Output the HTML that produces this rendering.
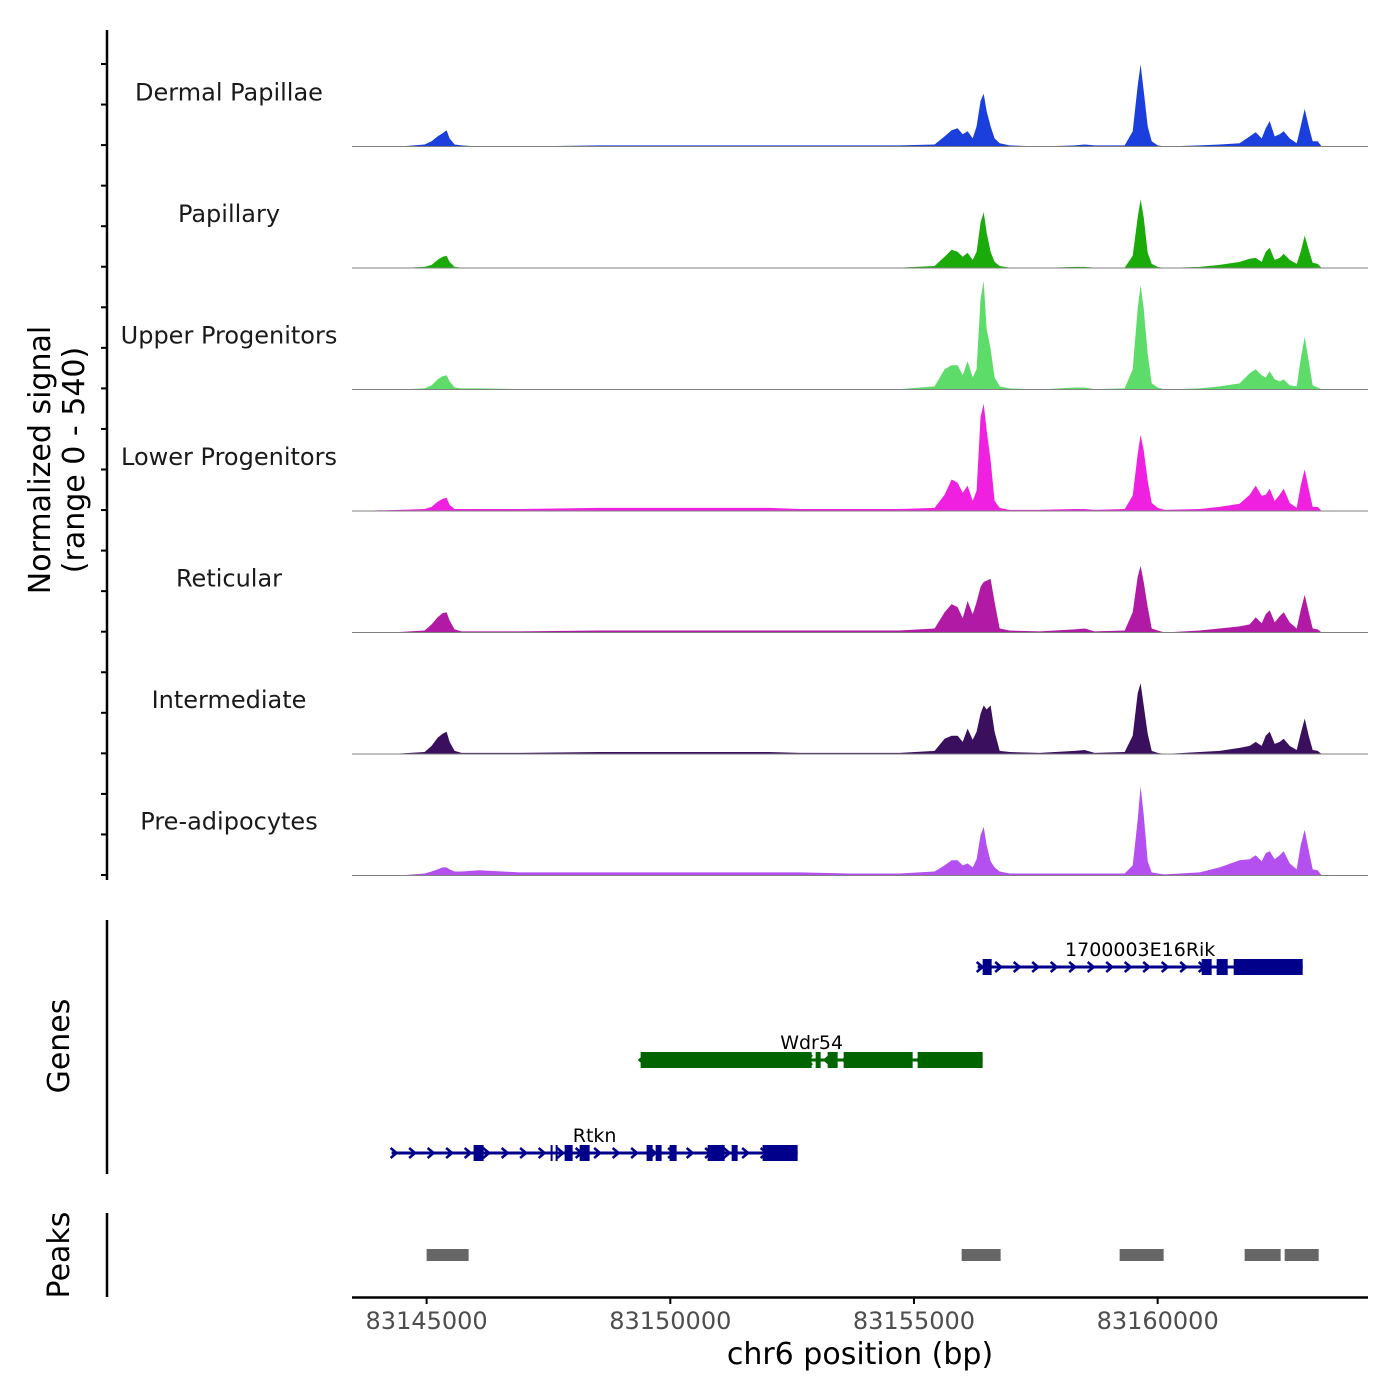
<!DOCTYPE html>
<html><head><meta charset="utf-8">
<style>
html,body{margin:0;padding:0;background:#fff;}
svg{display:block;font-family:"DejaVu Sans","Liberation Sans",sans-serif;}
</style></head>
<body>
<svg id="chart" width="1400" height="1400" viewBox="0 0 1400 1400" xmlns="http://www.w3.org/2000/svg">
<g id="tracks"></g>
<g id="genes"></g>
<g id="peaks"></g>
<g id="axes"></g>
</svg>
<script>
const positions=[83143461,83144446,83144959,83145103,83145226,83145328,83145410,83145472,83145575,83145718,83146088,83146908,83148550,83150602,83152038,83152654,83153680,83154706,83155424,83155629,83155773,83155896,83155999,83156101,83156204,83156286,83156368,83156430,83156491,83156573,83156655,83156758,83156963,83157579,83158297,83158502,83158707,83159323,83159487,83159590,83159651,83159713,83159795,83159877,83160000,83160144,83160862,83161272,83161682,83161888,83162011,83162134,83162216,83162298,83162401,83162504,83162586,83162709,83162852,83162935,83163017,83163099,83163181,83163284,83163366,83164309];
const trackNames=["Dermal Papillae","Papillary","Upper Progenitors","Lower Progenitors","Reticular","Intermediate","Pre-adipocytes"];
const trackColors=["#1a3fdc","#1aab0a","#5ddc6a","#f020e0","#b01aa5","#3a0f5e","#b44ff0"];
const dermal=[0,0,9,23,45,59,72,36,9,5,0,0,5,5,5,5,5,5,9,45,72,81,54,68,36,90,203,234,158,90,36,14,5,0,5,9,5,5,68,270,365,248,90,23,5,0,5,9,14,45,63,36,81,113,45,54,68,36,14,90,167,90,23,23,0,0];
const papillary=[0,0,5,14,36,50,54,27,5,2,0,2,2,2,2,2,2,2,9,50,81,72,50,68,36,72,203,248,158,72,27,9,2,0,5,5,2,2,54,225,306,225,68,18,5,0,5,14,27,41,45,27,72,90,36,45,63,36,18,72,144,81,23,18,0,0];
const upper=[0,0,5,18,45,59,63,36,9,5,5,2,2,2,2,2,2,2,14,90,108,108,63,126,54,90,405,482,270,180,54,14,5,0,9,9,2,5,90,360,464,360,158,27,9,0,5,14,27,72,90,63,54,81,45,36,45,18,14,135,234,126,18,9,0,0];
const lower=[0,5,9,18,41,54,59,27,9,9,9,9,14,14,14,9,9,9,14,72,140,126,81,113,45,90,420,477,360,225,45,14,5,5,9,9,5,9,68,252,338,270,135,36,14,5,9,18,32,72,113,68,72,99,45,72,99,36,14,113,185,99,18,18,0,0];
const reticular=[0,2,9,36,68,86,90,54,14,5,5,5,9,9,9,9,9,9,18,90,126,113,63,140,81,135,203,225,230,239,135,18,9,5,14,18,5,9,90,248,297,225,113,18,9,0,9,18,27,36,68,41,81,99,45,72,90,45,18,99,167,90,18,14,0,0];
const intermediate=[0,2,9,36,72,90,99,54,14,5,5,5,9,9,9,5,5,5,14,68,81,81,54,113,63,99,180,216,198,216,99,14,9,5,14,18,5,9,81,270,315,216,90,14,5,0,9,14,27,36,54,36,81,99,45,54,68,36,18,90,158,81,18,14,0,0];
const preadipo=[0,0,9,18,27,36,36,27,18,18,23,14,14,14,14,14,9,9,18,45,68,68,45,54,36,72,180,216,135,63,36,18,9,9,9,9,9,9,45,248,396,270,63,14,9,5,14,36,68,72,90,63,99,108,72,90,108,54,27,135,203,113,27,23,0,0];
const trackValues=[dermal,papillary,upper,lower,reticular,intermediate,preadipo];
const xTicks=[83145000,83150000,83155000,83160000];
const peakStarts=[83145000,83155978,83159220,83161785,83162606];
const peakEnds=[83145862,83156778,83160123,83162524,83163304];
const geneNames=["1700003E16Rik","Wdr54","Rtkn"];
const geneStarts=[83156307,83149391,83144282];
const geneEnds=[83162976,83156409,83152613];
const geneStrand=[1,-1,1];
const geneColors=["#00008b","#006400","#00008b"];
const geneExons=[
 [[83156409,83156594],[83160903,83161108],[83161211,83161437],[83161560,83162976]],
 [[83149391,83152900],[83152982,83153085],[83153229,83153434],[83153557,83154973],[83155075,83156409]],
 [[83145964,83146170],[83147544,83147585],[83147647,83147688],[83147832,83147996],[83148140,83148345],[83149514,83149638],[83149699,83149822],[83149986,83150130],[83150766,83151115],[83151259,83151382],[83151894,83152613]]
];
const NS="http://www.w3.org/2000/svg";
const X0=352,X1=1368,BP0=83143469,BP1=83164316;
const xs=bp=>X0+(bp-BP0)/(BP1-BP0)*(X1-X0);
const YMAX=540,TH=121.5,TOP=25;
function el(tag,attrs,parent,text){const e=document.createElementNS(NS,tag);for(const k in attrs)e.setAttribute(k,attrs[k]);if(text!==undefined)e.textContent=text;parent.appendChild(e);return e;}
const gT=document.getElementById('tracks');
trackValues.forEach((vals,t)=>{
 const base=TOP+TH*(t+1);
 const ys=v=>base-v/YMAX*TH;
 let d=`M${xs(positions[0])},${base}`;
 vals.forEach((v,i)=>{d+=` L${xs(positions[i]).toFixed(1)},${ys(v).toFixed(1)}`;});
 d+=` L${xs(positions[positions.length-1])},${base} Z`;
 const p=el('path',{d:d,fill:trackColors[t]},gT);
 
 
 const bl=el('line',{x1:X0,x2:X1,y1:base,y2:base,stroke:'#808080','stroke-width':1},gT);
 
 
 const lb=el('text',{x:229,y:base-46,'text-anchor':'middle','font-size':24,fill:'#1a1a1a'},gT,trackNames[t]);
 
 
});
const gA=document.getElementById('axes');
function ax(x1,y1,x2,y2,name,w){const l=el('line',{x1,y1,x2,y2,stroke:'#000','stroke-width':w||2.5},gA);}
ax(107,30,107,880,'signal-y-axis');
for(let i=0;i<=20;i++){const yy=64+i*40.55;ax(101,yy,107,yy,'y-tick',2);}
const yl=el('text',{transform:'translate(52,460) rotate(-90)','text-anchor':'middle','font-size':30,fill:'#000'},gA);


el('tspan',{x:0,dy:-2},yl,'Normalized signal');
el('tspan',{x:0,dy:34},yl,'(range 0 - 540)');
ax(107,920,107,1174,'genes-axis');
const gl=el('text',{transform:'translate(69,1046) rotate(-90)','text-anchor':'middle','font-size':30},gA,'Genes');


ax(107,1213,107,1297,'peaks-axis');
const pl=el('text',{transform:'translate(69,1255) rotate(-90)','text-anchor':'middle','font-size':30},gA,'Peaks');


ax(352,1297.5,1368,1297.5,'x-axis-line');
xTicks.forEach(t=>{const x=xs(t);ax(x,1297,x,1304,'x-tick',2);
 const tl=el('text',{x:x,y:1329,'text-anchor':'middle','font-size':24,fill:'#4d4d4d'},gA,String(t));
 
 });
const xt=el('text',{x:860,y:1364,'text-anchor':'middle','font-size':30,fill:'#000'},gA,'chr6 position (bp)');


const gP=document.getElementById('peaks');
peakStarts.forEach((s,i)=>{const r=el('rect',{x:xs(s),y:1249,width:xs(peakEnds[i])-xs(s),height:12,fill:'#666'},gP);
 
 });
const gG=document.getElementById('genes');
const geneY=[967,1060,1153];
geneNames.forEach((n,g)=>{
 const y=geneY[g],c=geneColors[g];
 const grp=el('g',{},gG);
 
 
 const x1=xs(geneStarts[g]),x2=xs(geneEnds[g]);
 el('line',{x1:x1,x2:x2,y1:y,y2:y,stroke:c,'stroke-width':3},grp);
 for(let x=x1+2;x<x2-4;x+=18.5){
  const s=geneStrand[g];
  el('path',{d:`M${x-3*s},${y-5} L${x+3*s},${y} L${x-3*s},${y+5}`,fill:'none',stroke:c,'stroke-width':2.5},grp);
 }
 geneExons[g].forEach(e=>{el('rect',{x:xs(e[0]),y:y-8,width:Math.max(2,xs(e[1])-xs(e[0])),height:16,fill:c},grp);});
 const t=el('text',{x:(x1+x2)/2,y:y-11,'text-anchor':'middle','font-size':19,fill:'#000'},grp,n);
 
 
});
</script>
</body></html>
